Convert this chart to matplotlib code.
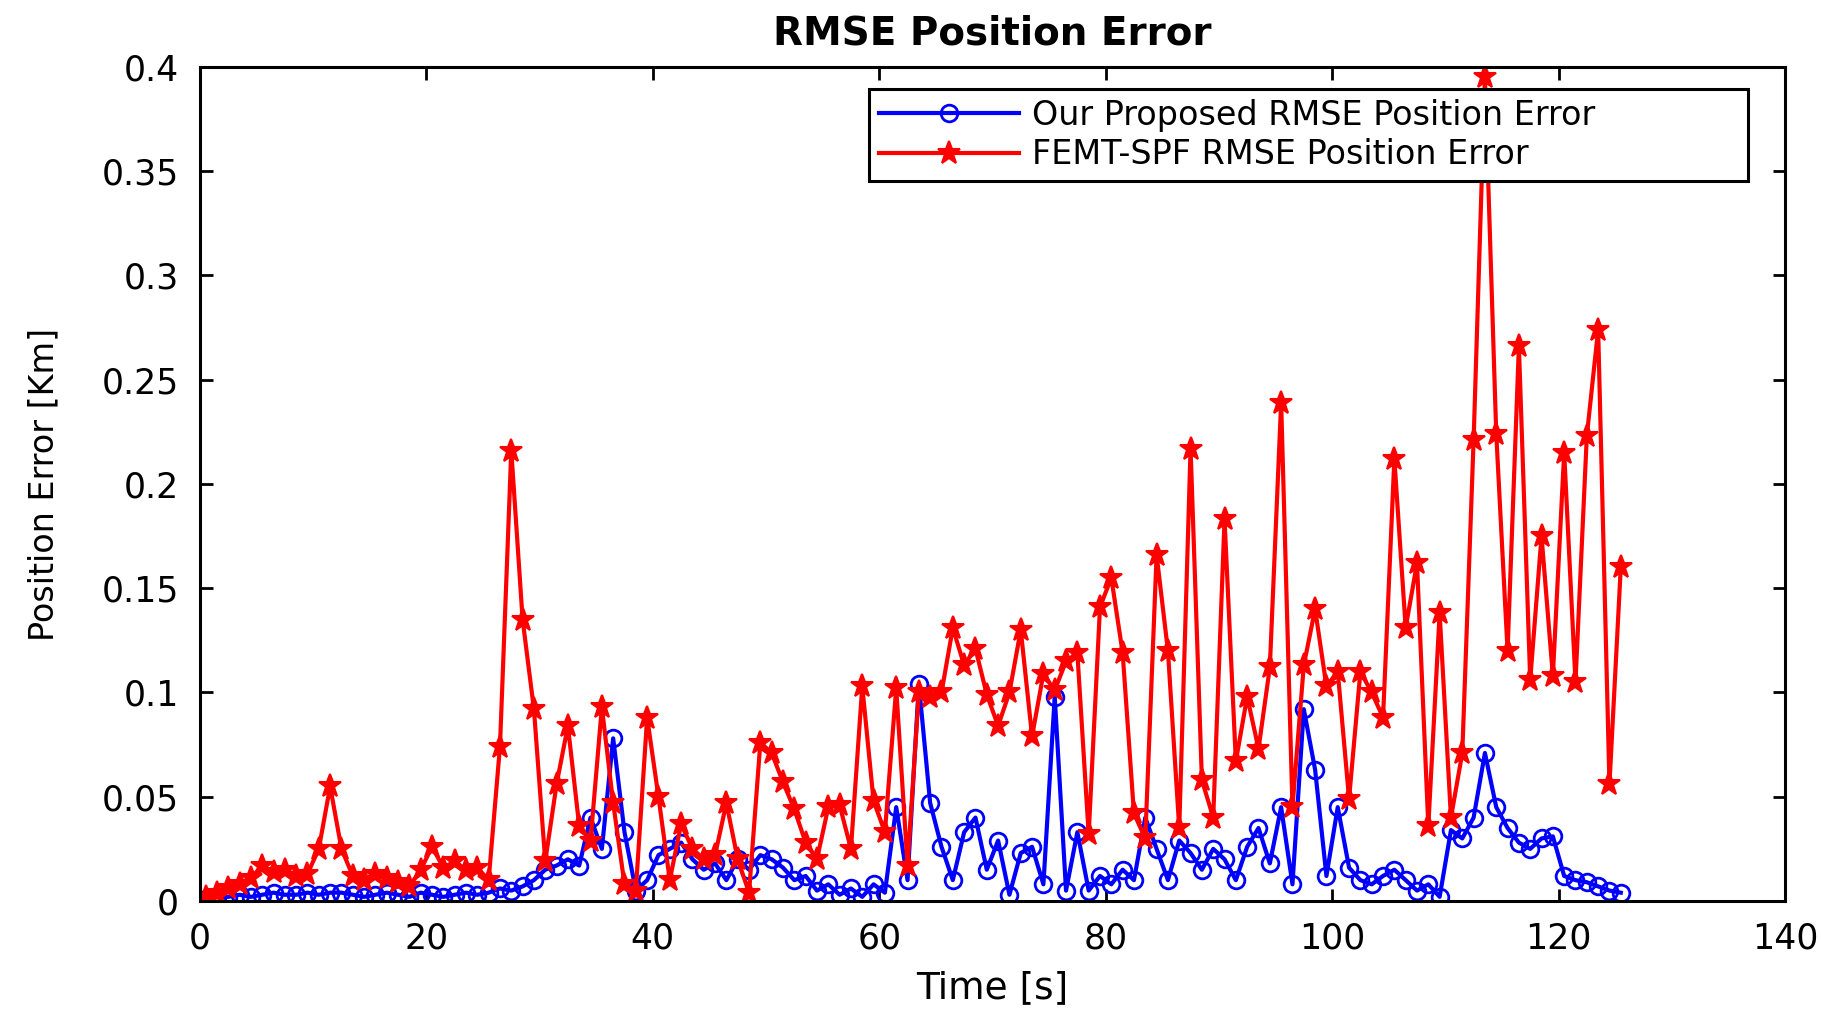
import numpy as np
import matplotlib
matplotlib.use("Agg")
import matplotlib.pyplot as plt

# time axis (s), one sample per second
time_s = np.arange(126) + 0.5

# our proposed method, rmse of position (km)
proposed_err = [
    0.001, 0.002, 0.002, 0.003, 0.002, 0.003, 0.004, 0.003, 0.003, 0.004,
    0.003, 0.004, 0.004, 0.003, 0.002, 0.003, 0.004, 0.003, 0.002, 0.004,
    0.003, 0.002, 0.003, 0.004, 0.003, 0.004, 0.006, 0.005, 0.007, 0.010,
    0.015, 0.017, 0.020, 0.017, 0.040, 0.025, 0.078, 0.033, 0.005, 0.010,
    0.022, 0.025, 0.028, 0.020, 0.015, 0.018, 0.010, 0.020, 0.015, 0.022,
    0.020, 0.016, 0.010, 0.012, 0.005, 0.008, 0.003, 0.006, 0.002, 0.008,
    0.004, 0.045, 0.010, 0.104, 0.047, 0.026, 0.010, 0.033, 0.040, 0.015,
    0.029, 0.003, 0.023, 0.026, 0.008, 0.098, 0.005, 0.033, 0.005, 0.012,
    0.008, 0.015, 0.010, 0.040, 0.025, 0.010, 0.029, 0.023, 0.015, 0.025,
    0.020, 0.010, 0.026, 0.035, 0.018, 0.045, 0.008, 0.092, 0.063, 0.012,
    0.045, 0.016, 0.010, 0.008, 0.012, 0.015, 0.010, 0.005, 0.008, 0.002,
    0.034, 0.030, 0.040, 0.071, 0.045, 0.035, 0.028, 0.025, 0.030, 0.031,
    0.012, 0.010, 0.009, 0.007, 0.005, 0.004,
]

# FEMT-SPF rmse of position (km)
femt_err = [
    0.002, 0.004, 0.006, 0.008, 0.011, 0.017, 0.014, 0.015, 0.012, 0.013,
    0.025, 0.055, 0.025, 0.012, 0.010, 0.013, 0.011, 0.009, 0.007, 0.015,
    0.026, 0.016, 0.019, 0.015, 0.016, 0.010, 0.074, 0.216, 0.135, 0.092,
    0.019, 0.056, 0.084, 0.036, 0.029, 0.093, 0.047, 0.008, 0.005, 0.088,
    0.050, 0.010, 0.037, 0.025, 0.020, 0.022, 0.047, 0.020, 0.004, 0.076,
    0.071, 0.057, 0.044, 0.028, 0.020, 0.045, 0.046, 0.025, 0.103, 0.048,
    0.033, 0.102, 0.017, 0.100, 0.098, 0.100, 0.131, 0.113, 0.121, 0.099,
    0.084, 0.100, 0.130, 0.079, 0.109, 0.101, 0.115, 0.119, 0.032, 0.141,
    0.155, 0.119, 0.042, 0.030, 0.166, 0.120, 0.035, 0.217, 0.058, 0.040,
    0.183, 0.067, 0.098, 0.073, 0.112, 0.239, 0.045, 0.113, 0.140, 0.103,
    0.110, 0.049, 0.110, 0.100, 0.088, 0.212, 0.131, 0.162, 0.036, 0.138,
    0.040, 0.071, 0.221, 0.395, 0.224, 0.120, 0.266, 0.106, 0.175, 0.108,
    0.215, 0.105, 0.223, 0.274, 0.056, 0.160,
]

x_ticks = [0, 20, 40, 60, 80, 100, 120, 140]
y_ticks = [0, 0.05, 0.1, 0.15, 0.2, 0.25, 0.3, 0.35, 0.4]
y_tick_labels = ["0", "0.05", "0.1", "0.15", "0.2", "0.25", "0.3", "0.35", "0.4"]


def run():
    plt.rcParams['font.family'] = ['DejaVu Sans']

    fig = plt.figure(figsize=(18.21, 10.11), dpi=100)
    ax = fig.add_axes([0.1098, 0.1088, 0.8704, 0.8250])

    # blue first, red drawn over it
    ax.plot(time_s, proposed_err, color=(0, 0, 1), lw=3, marker='o',
            markersize=12, markerfacecolor='none', markeredgewidth=2,
            label="Our Proposed RMSE Position Error")
    ax.plot(time_s, femt_err, color=(1, 0, 0), lw=3, marker='*',
            markersize=17, markeredgewidth=1.5,
            label="FEMT-SPF RMSE Position Error")

    ax.set_xlim(0, 140)
    ax.set_ylim(0, 0.4)
    ax.set_xticks(x_ticks)
    ax.set_yticks(y_ticks)
    ax.set_yticklabels(y_tick_labels)

    # matlab like box with inward ticks on every side
    ax.tick_params(direction='in', length=9, width=2, top=True, right=True,
                   labelsize=25, pad=15)
    for s in ax.spines.values():
        s.set_linewidth(2.2)

    ax.set_title("RMSE Position Error", fontsize=28, fontweight='bold', pad=16)
    ax.set_xlabel("Time [s]", fontsize=27, labelpad=10)
    ax.set_ylabel("Position Error [Km]", fontsize=24, labelpad=30)

    # legend box stretched to the width it has in the original
    leg = ax.legend(loc='upper left', bbox_to_anchor=(0.422, 0.864, 0.555, 0.110),
                    mode='expand', borderaxespad=0, fontsize=24, fancybox=False,
                    framealpha=1, edgecolor='black', handlelength=4.2,
                    handletextpad=0.4, borderpad=0.3, labelspacing=0.2)
    leg.get_frame().set_linewidth(2.2)

    fig.savefig("out.png", dpi=100)


if __name__ == "__main__":
    run()
